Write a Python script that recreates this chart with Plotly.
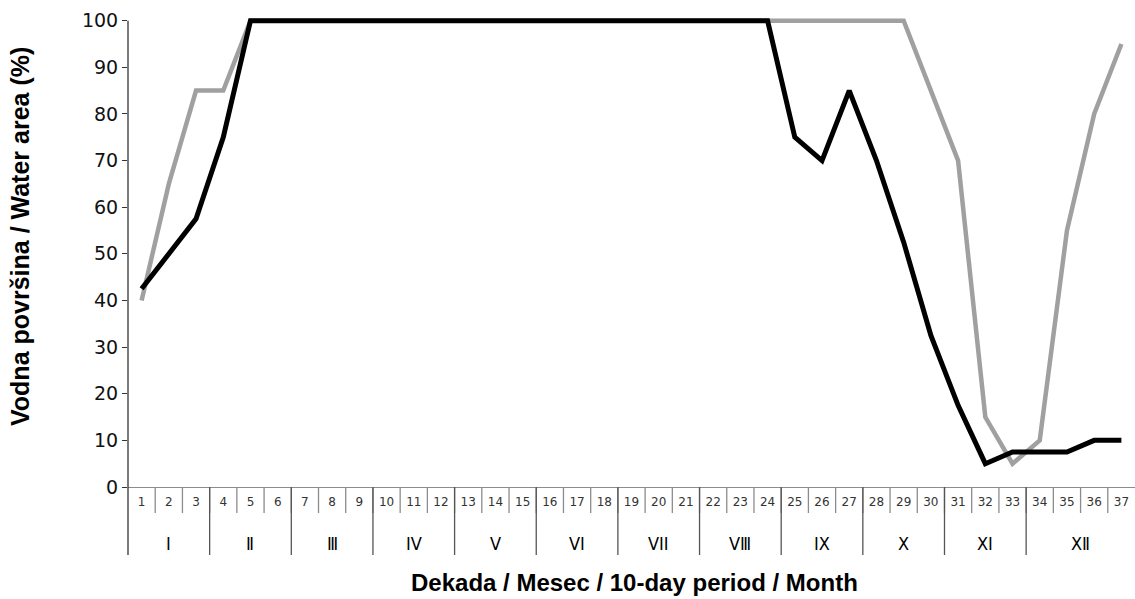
import plotly.graph_objects as go

months = ["I", "Ⅱ", "Ⅲ", "IV", "V", "VI", "VII", "VⅢ", "IX", "X", "XI", "XⅡ"]
dekadas_per_month = [3, 3, 3, 3, 3, 3, 3, 3, 3, 3, 3, 4]
dekadas = list(range(1, 38))
dekada_labels = [str(d) for d in dekadas]

series_black = [42.5, 50, 57.5, 75, 100, 100, 100, 100, 100, 100, 100, 100,
                100, 100, 100, 100, 100, 100, 100, 100, 100, 100, 100, 100,
                75, 70, 85, 70, 52.5, 32.5, 17.5, 5, 7.5, 7.5, 7.5, 10, 10]
series_gray = [40, 65, 85, 85, 100, 100, 100, 100, 100, 100, 100, 100,
               100, 100, 100, 100, 100, 100, 100, 100, 100, 100, 100, 100,
               100, 100, 100, 100, 100, 85, 70, 15, 5, 10, 55, 80, 95]

y_ticks = list(range(0, 101, 10))

fig = go.Figure()
fig.add_trace(go.Scatter(x=dekadas, y=series_gray, mode="lines",
                         line=dict(color="#a0a0a0", width=4.5), showlegend=False))
fig.add_trace(go.Scatter(x=dekadas, y=series_black, mode="lines",
                         line=dict(color="#000000", width=5), showlegend=False))

W, H = 1135, 599
m_l, m_r, m_t, m_b = 128, 0, 16, 112
plot_h = H - m_t - m_b

sep_day_len = 26 / plot_h
sep_month_len = 68 / plot_h

shapes = []
# day separators (between dekadas)
for d in dekadas[1:]:
    shapes.append(dict(type="line", xref="x", yref="paper", x0=d - 0.5, x1=d - 0.5,
                       y0=0, y1=-sep_day_len, line=dict(color="#8c8c8c", width=1.3)))
# month separators and labels
annotations = []
start = 1
for i, (m, n) in enumerate(zip(months, dekadas_per_month)):
    end = start + n - 1
    xb = start - 0.5
    if i == 0:
        shapes.append(dict(type="line", xref="paper", yref="paper", x0=0, x1=0,
                           y0=0, y1=-sep_month_len, line=dict(color="#333333", width=1.3)))
    else:
        shapes.append(dict(type="line", xref="x", yref="paper", x0=xb, x1=xb,
                           y0=0, y1=-sep_month_len, line=dict(color="#555555", width=1.3)))
    annotations.append(dict(text=m, x=(start + end) / 2, xref="x", y=0, yref="paper",
                            yshift=-56, showarrow=False, yanchor="middle", xanchor="center",
                            font=dict(size=18, family="DejaVu Sans Condensed, DejaVu Sans", color="#000")))
    start = end + 1

# y-axis line from 0 to 100 (drawn in data coordinates)
shapes.append(dict(type="line", xref="paper", yref="y", x0=0, x1=0, y0=0, y1=100,
                   line=dict(color="#333333", width=1.3)))

annotations.append(dict(text="<b>Vodna površina / Water area (%)</b>", textangle=-90,
                        x=0, xref="paper", xshift=-108, y=250 / plot_h, yref="paper",
                        showarrow=False, xanchor="center", yanchor="middle",
                        font=dict(size=25, family="Liberation Sans", color="#000")))
annotations.append(dict(text="<b>Dekada / Mesec / 10-day period / Month</b>",
                        x=506 / (W - m_l - m_r), xref="paper", y=0, yref="paper", yshift=-95,
                        showarrow=False, xanchor="center", yanchor="middle",
                        font=dict(size=24, family="Liberation Sans", color="#000")))

fig.update_layout(
    width=W, height=H,
    margin=dict(l=m_l, r=m_r, t=m_t, b=m_b),
    plot_bgcolor="white", paper_bgcolor="white",
    font=dict(family="DejaVu Sans", color="#000"),
    shapes=shapes,
    annotations=annotations,
    xaxis=dict(
        range=[0.5, 37.5], tickmode="array", tickvals=dekadas, ticktext=dekada_labels,
        showline=True, linecolor="#8c8c8c", linewidth=1.3,
        ticks="", ticklabelstandoff=3,
        tickfont=dict(size=12, family="DejaVu Sans", color="#333"),
        showgrid=False, zeroline=False, automargin=False,
    ),
    yaxis=dict(
        range=[0, 101], tickmode="array", tickvals=y_ticks, showline=False,
        ticks="outside", ticklen=5, tickcolor="#333333", tickwidth=1.3,
        showgrid=False, zeroline=False, automargin=False,
        tickfont=dict(size=19, family="DejaVu Sans", color="#111"),
    ),
)

fig.write_html("out.html", config={"displayModeBar": False},
               post_script="document.body.style.margin='0';document.body.style.overflow='hidden';")
